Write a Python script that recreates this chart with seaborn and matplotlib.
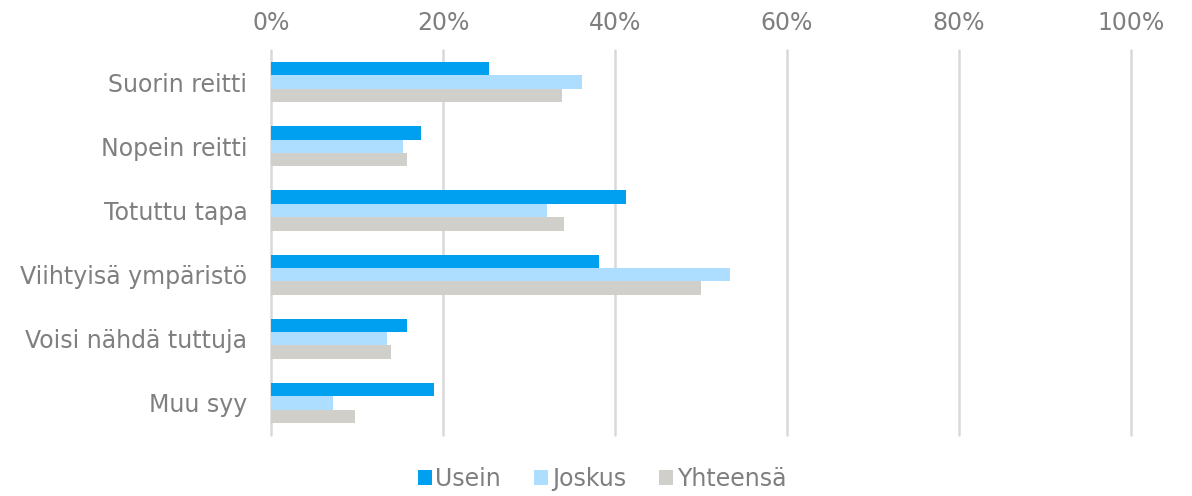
import pandas as pd
import seaborn as sns
import matplotlib.pyplot as plt
from matplotlib.ticker import PercentFormatter

# data (percent)
syyt = ['Suorin reitti', 'Nopein reitti', 'Totuttu tapa',
        'Viihtyisä ympäristö', 'Voisi nähdä tuttuja', 'Muu syy']
usein = [25.4, 17.4, 41.3, 38.1, 15.8, 19.0]
joskus = [36.2, 15.3, 32.1, 53.4, 13.5, 7.2]
yhteensa = [33.8, 15.8, 34.1, 50.0, 14.0, 9.8]
sarjat = ['Usein', 'Joskus', 'Yhteensä']
varit = ['#00A0F0', '#ADDDFF', '#D0CFCA']

df = pd.DataFrame({'Syy': syyt, 'Usein': usein, 'Joskus': joskus, 'Yhteensä': yhteensa})
df = df.melt(id_vars='Syy', var_name='Sarja', value_name='Osuus')

sns.set_style('white')
plt.rcParams['font.family'] = ['DejaVu Sans']
gray = '#7F7F7F'

fig, ax = plt.subplots(figsize=(11.92, 4.96), dpi=100)
sns.barplot(data=df, y='Syy', x='Osuus', hue='Sarja', hue_order=sarjat,
            palette=varit, orient='h', width=0.625, saturation=1,
            linewidth=0, ax=ax)

ax.set_xlim(0, 100)
ax.xaxis.set_major_formatter(PercentFormatter(decimals=0))
ax.set_xticks(range(0, 101, 20))
ax.xaxis.tick_top()
ax.tick_params(axis='both', length=0, labelsize=17, labelcolor=gray)
ax.tick_params(axis='x', pad=11)
ax.tick_params(axis='y', pad=17)
ax.set_xlabel('')
ax.set_ylabel('')
ax.grid(axis='x', color='#D9D9D9', linewidth=1.8)
for gl in ax.get_xgridlines():
    gl.set_clip_on(False)
ax.set_axisbelow(True)
for s in ax.spines.values():
    s.set_visible(False)

ax.get_legend().remove()
handles, labels = ax.get_legend_handles_labels()
leg = fig.legend(handles, labels, loc='center', bbox_to_anchor=(0.505, 0.034), ncol=3,
                 frameon=False, fontsize=17, handlelength=0.6, handleheight=0.6,
                 handletextpad=0.15, columnspacing=1.4)
for t in leg.get_texts():
    t.set_color(gray)

plt.subplots_adjust(left=0.2273, right=0.9488, top=0.899, bottom=0.123)
plt.savefig('out.png', dpi=100)
